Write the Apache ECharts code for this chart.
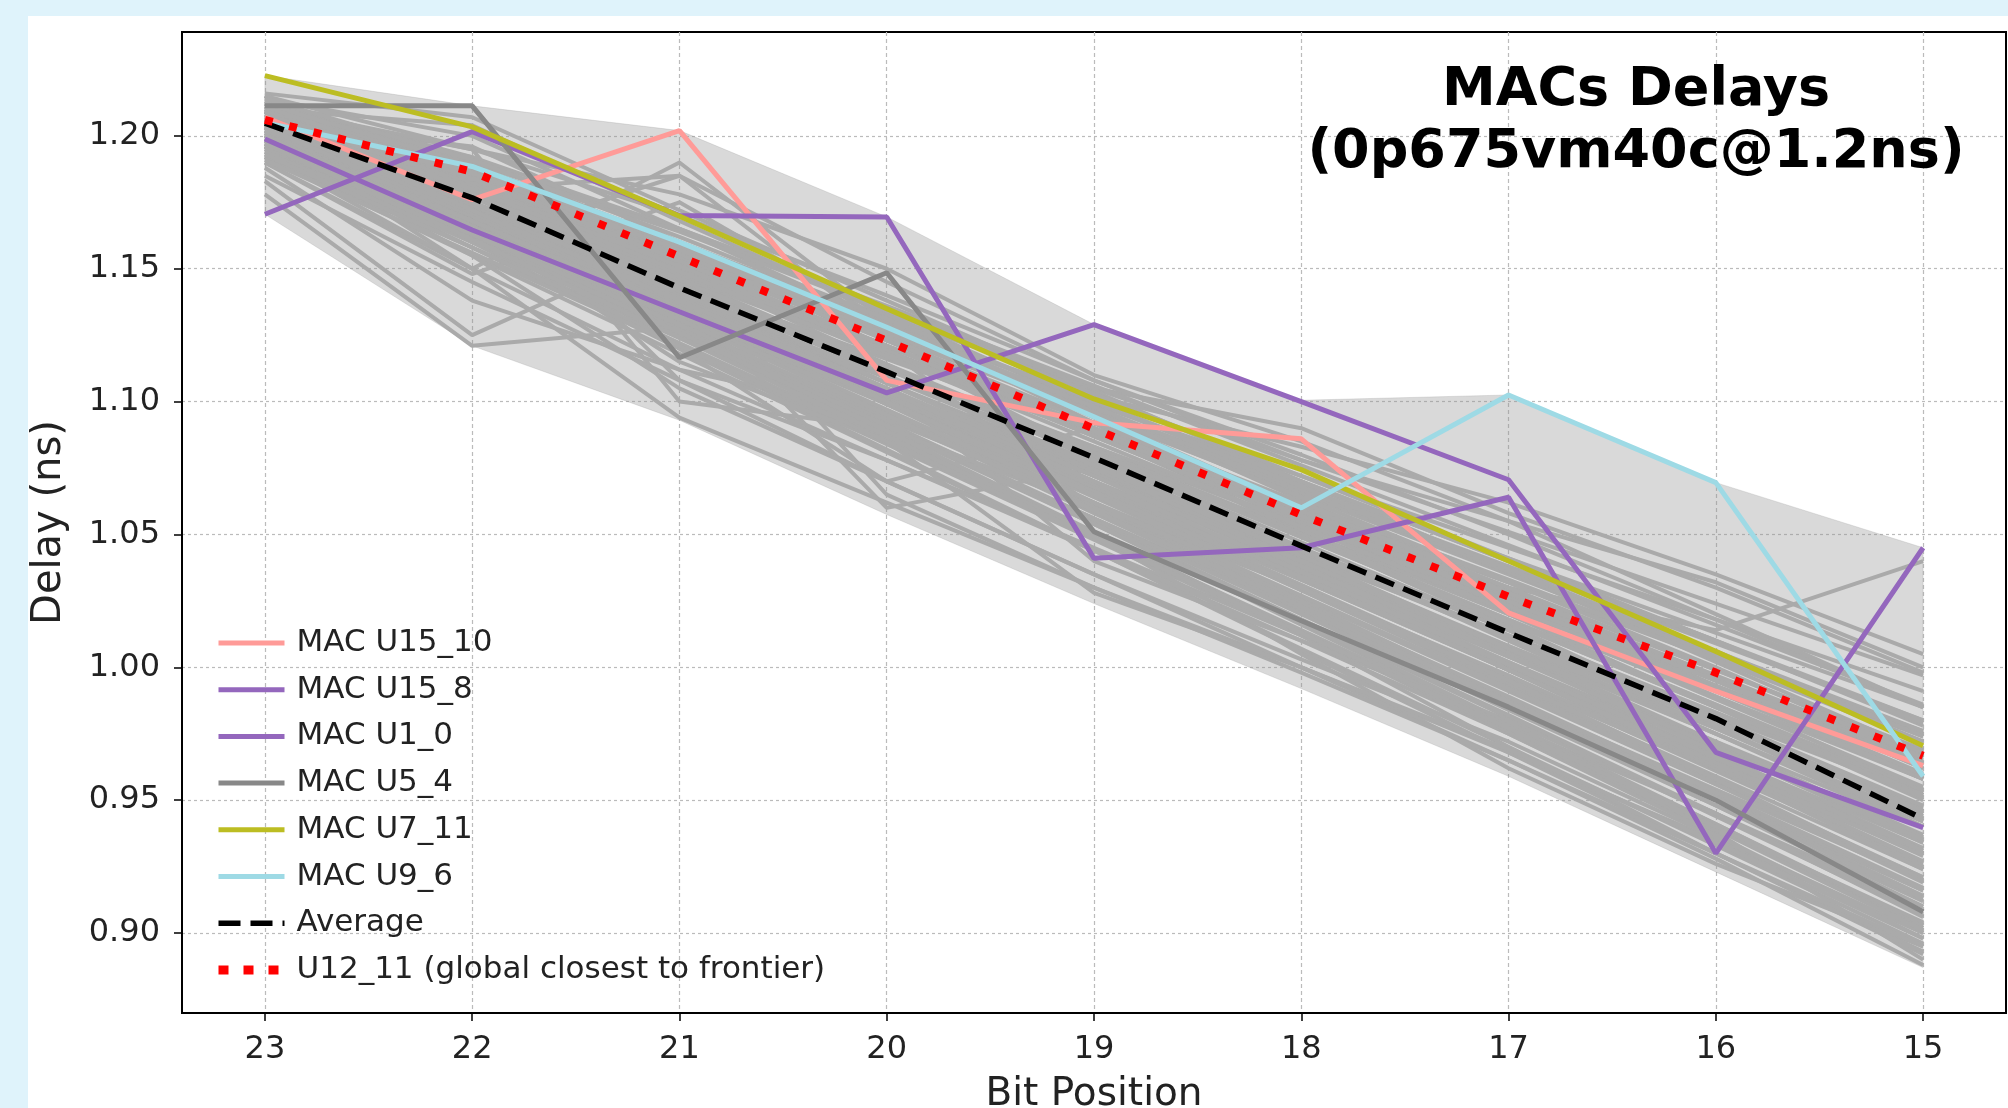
<!DOCTYPE html>
<html><head><meta charset="utf-8">
<script src="https://cdn.jsdelivr.net/npm/echarts@6/dist/echarts.min.js"></script>
<style>html,body{margin:0;padding:0;background:#fff;}#c{width:2008px;height:1108px;}</style>
</head><body><div id="c"></div>
<script>
const bits = [23,22,21,20,19,18,17,16,15];
const xTicks = [15,16,17,18,19,20,21,22,23];
const yTicks = [0.90,0.95,1.00,1.05,1.10,1.15,1.20];

const macU15_10 = [1.207,1.176,1.202,1.108,1.092,1.086,1.0205,0.991,0.963];
const macU15_8  = [1.1705,1.2016,1.170,1.1695,1.041,1.045,1.064,0.930,1.045];
const macU1_0   = [1.1988,1.1646,1.1338,1.1033,1.129,1.100,1.0706,0.968,0.9397];
const macU5_4   = [1.2113,1.2113,1.1165,1.1485,1.051,1.0175,0.985,0.950,0.908];
const macU7_11  = [1.2227,1.2034,1.1698,1.135,1.101,1.0744,1.040,1.006,0.9705];
const macU9_6   = [1.205,1.1885,1.160,1.128,1.0943,1.060,1.1025,1.0695,0.959];
const average   = [1.2048,1.1767,1.1428,1.1112,1.0789,1.0457,1.013,0.9807,0.943];
const u12_11    = [1.206,1.1865,1.1546,1.1229,1.0898,1.0574,1.0266,0.998,0.9667];

const bandUpper = [1.2227,1.2113,1.2020,1.1695,1.1290,1.1005,1.1025,1.0695,1.0450];
const bandLower = [1.1705,1.1210,1.0930,1.0575,1.0240,0.9920,0.9590,0.9230,0.8870];

const otherMacs = [
[1.192,1.162,1.132,1.102,1.072,1.042,1.012,0.982,0.952],
[1.192,1.158,1.124,1.090,1.056,1.022,0.988,0.954,0.920],
[1.192,1.155,1.118,1.081,1.044,1.007,0.970,0.933,0.896],
[1.196,1.167,1.138,1.109,1.080,1.051,1.022,0.993,0.964],
[1.196,1.164,1.132,1.100,1.068,1.036,1.004,0.972,0.940],
[1.196,1.161,1.126,1.091,1.056,1.021,0.986,0.951,0.916],
[1.196,1.158,1.120,1.082,1.044,1.006,0.968,0.930,0.892],
[1.200,1.172,1.144,1.116,1.088,1.060,1.032,1.004,0.976],
[1.200,1.169,1.138,1.107,1.076,1.045,1.014,0.983,0.952],
[1.200,1.167,1.134,1.101,1.068,1.035,1.002,0.969,0.936],
[1.200,1.164,1.128,1.092,1.056,1.020,0.984,0.948,0.912],
[1.203,1.173,1.143,1.113,1.083,1.053,1.023,0.993,0.963],
[1.203,1.171,1.139,1.107,1.075,1.043,1.011,0.979,0.947],
[1.203,1.169,1.135,1.101,1.067,1.033,0.999,0.965,0.931],
[1.203,1.166,1.129,1.092,1.055,1.018,0.981,0.944,0.907],
[1.206,1.177,1.148,1.119,1.090,1.061,1.032,1.003,0.974],
[1.206,1.175,1.144,1.113,1.082,1.051,1.020,0.989,0.958],
[1.206,1.173,1.140,1.107,1.074,1.041,1.008,0.975,0.942],
[1.206,1.171,1.136,1.101,1.066,1.031,0.996,0.961,0.926],
[1.206,1.168,1.130,1.092,1.054,1.016,0.978,0.940,0.902],
[1.209,1.181,1.153,1.125,1.097,1.069,1.041,1.013,0.985],
[1.209,1.179,1.149,1.119,1.089,1.059,1.029,0.999,0.969],
[1.209,1.177,1.145,1.113,1.081,1.049,1.017,0.985,0.953],
[1.209,1.175,1.141,1.107,1.073,1.039,1.005,0.971,0.937],
[1.209,1.173,1.137,1.101,1.065,1.029,0.993,0.957,0.921],
[1.212,1.183,1.154,1.125,1.096,1.067,1.038,1.009,0.980],
[1.212,1.181,1.150,1.119,1.088,1.057,1.026,0.995,0.964],
[1.212,1.179,1.146,1.113,1.080,1.047,1.014,0.981,0.948],
[1.212,1.177,1.142,1.107,1.072,1.037,1.002,0.967,0.932],
[1.215,1.185,1.155,1.125,1.095,1.065,1.035,1.005,0.975],
[1.215,1.183,1.151,1.119,1.087,1.055,1.023,0.991,0.959],
[1.215,1.181,1.147,1.113,1.079,1.045,1.011,0.977,0.943],
[1.198,1.165,1.132,1.099,1.066,1.033,1.000,0.967,0.934],
[1.201,1.166,1.131,1.096,1.061,1.026,0.991,0.956,0.921],
[1.204,1.168,1.132,1.096,1.060,1.024,0.988,0.952,0.916],
[1.210,1.173,1.136,1.099,1.062,1.025,0.988,0.951,0.914],
[1.194,1.163,1.132,1.101,1.070,1.039,1.008,0.977,0.946],
[1.199,1.170,1.141,1.112,1.083,1.054,1.025,0.996,0.967],
[1.207,1.180,1.153,1.126,1.099,1.072,1.045,1.018,0.991],
[1.213,1.186,1.159,1.132,1.105,1.078,1.051,1.024,0.997],
[1.210,1.204,1.168,1.133,1.098,1.063,1.028,0.993,0.958],
[1.214,1.200,1.165,1.129,1.094,1.059,1.024,0.989,0.954],
[1.205,1.196,1.160,1.124,1.088,1.052,1.016,0.980,0.944],
[1.216,1.207,1.172,1.138,1.104,1.070,1.036,1.002,0.968],
[1.208,1.192,1.158,1.123,1.089,1.054,1.020,0.985,0.950],
[1.202,1.190,1.150,1.114,1.078,1.042,1.006,0.970,0.934],
[1.178,1.121,1.128,1.093,1.062,1.030,0.997,0.962,0.925],
[1.183,1.125,1.160,1.120,1.080,1.045,1.010,0.975,0.940],
[1.188,1.138,1.112,1.095,1.058,1.022,0.985,0.948,0.910],
[1.190,1.148,1.175,1.130,1.092,1.050,1.015,0.978,0.940],
[1.210,1.195,1.100,1.090,1.060,1.030,0.995,0.962,0.930],
[1.205,1.185,1.108,1.078,1.045,1.012,0.978,0.945,0.910],
[1.200,1.150,1.190,1.130,1.095,1.060,1.028,0.995,0.962],
[1.207,1.160,1.185,1.125,1.100,1.070,1.040,1.010,0.978],
[1.196,1.170,1.140,1.060,1.075,1.040,1.005,0.968,0.930],
[1.199,1.172,1.150,1.065,1.030,1.000,0.968,0.935,0.900],
[1.203,1.180,1.185,1.145,1.108,1.080,1.050,1.018,0.985],
[1.211,1.195,1.178,1.150,1.110,1.085,1.055,1.020,0.985],
[1.213,1.190,1.165,1.135,1.105,1.090,1.058,1.030,0.998],
[1.209,1.188,1.160,1.128,1.102,1.083,1.062,1.035,1.005],
[1.215,1.195,1.170,1.140,1.108,1.078,1.055,1.032,1.000],
[1.211,1.187,1.156,1.124,1.092,1.060,1.030,1.014,1.040],
[1.190,1.150,1.112,1.078,1.044,1.010,0.975,0.938,0.890],
[1.195,1.160,1.120,1.084,1.048,1.012,0.970,0.930,0.893],
[1.185,1.145,1.108,1.070,1.035,1.000,0.965,0.928,0.888],
[1.198,1.162,1.125,1.088,1.050,1.005,0.962,0.926,0.895],
[1.193,1.150,1.094,1.062,1.030,0.998,0.965,0.930,0.895],
[1.197,1.155,1.105,1.070,1.035,1.003,0.972,0.936,0.900],
[1.201,1.165,1.115,1.085,1.028,1.000,0.969,0.934,0.898],
[1.204,1.175,1.125,1.105,1.040,1.010,0.980,0.945,0.908],
[1.206,1.178,1.150,1.120,1.060,1.035,1.000,0.965,0.930],
[1.202,1.170,1.120,1.070,1.090,1.050,1.015,0.980,0.945],
[1.197,1.170,1.137,1.105,1.072,1.040,1.007,0.975,0.942],
[1.201,1.174,1.141,1.109,1.077,1.044,1.012,0.979,0.946],
[1.204,1.177,1.146,1.114,1.082,1.050,1.018,0.986,0.954],
[1.208,1.183,1.152,1.121,1.090,1.058,1.027,0.996,0.965],
[1.211,1.188,1.158,1.127,1.097,1.066,1.036,1.005,0.975],
[1.195,1.166,1.133,1.100,1.066,1.033,0.999,0.965,0.930],
[1.199,1.168,1.134,1.099,1.064,1.029,0.994,0.959,0.924],
[1.202,1.170,1.135,1.100,1.065,1.030,0.995,0.958,0.920],
[1.205,1.174,1.140,1.105,1.070,1.035,0.999,0.962,0.924],
[1.208,1.178,1.144,1.110,1.076,1.042,1.007,0.972,0.936],
[1.194,1.160,1.125,1.090,1.054,1.018,0.982,0.945,0.906],
[1.198,1.163,1.127,1.091,1.054,1.017,0.979,0.941,0.902],
[1.201,1.163,1.126,1.089,1.051,1.013,0.975,0.937,0.898],
[1.210,1.186,1.160,1.130,1.100,1.070,1.040,1.010,0.980],
[1.213,1.192,1.165,1.136,1.106,1.076,1.046,1.016,0.986],
[1.206,1.183,1.155,1.126,1.096,1.066,1.036,1.006,0.976],
[1.200,1.175,1.147,1.118,1.088,1.057,1.026,0.995,0.962],
[1.197,1.172,1.143,1.113,1.082,1.050,1.018,0.986,0.952],
[1.203,1.179,1.151,1.121,1.090,1.059,1.028,0.997,0.966],
[1.209,1.190,1.164,1.134,1.103,1.072,1.041,1.010,0.979],
[1.207,1.182,1.150,1.119,1.087,1.055,1.023,0.991,0.958],
[1.210,1.185,1.154,1.123,1.092,1.061,1.030,0.999,0.968],
[1.212,1.189,1.160,1.129,1.098,1.067,1.036,1.004,0.972],
[1.205,1.181,1.151,1.121,1.092,1.062,1.033,1.003,0.972],
[1.208,1.186,1.157,1.127,1.096,1.064,1.032,1.000,0.966],
[1.203,1.178,1.148,1.118,1.087,1.056,1.025,0.993,0.960],
[1.206,1.180,1.149,1.117,1.085,1.053,1.021,0.988,0.955],
[1.211,1.184,1.153,1.121,1.089,1.057,1.025,0.992,0.958],
[1.214,1.191,1.162,1.131,1.100,1.068,1.037,1.006,0.974],
[1.204,1.175,1.143,1.112,1.081,1.049,1.017,0.985,0.951],
[1.202,1.172,1.139,1.105,1.072,1.038,1.004,0.970,0.935],
[1.199,1.166,1.132,1.097,1.062,1.027,0.992,0.956,0.919],
[1.196,1.163,1.129,1.094,1.059,1.024,0.989,0.953,0.917],
[1.203,1.170,1.136,1.102,1.068,1.034,0.999,0.963,0.927],
[1.193,1.158,1.122,1.086,1.050,1.014,0.978,0.941,0.903],
[1.197,1.161,1.124,1.087,1.050,1.013,0.976,0.939,0.901],
[1.200,1.166,1.131,1.095,1.059,1.023,0.987,0.950,0.913],
[1.205,1.171,1.137,1.103,1.069,1.034,0.999,0.964,0.929],
[1.191,1.156,1.121,1.085,1.049,1.013,0.977,0.940,0.904],
[1.207,1.172,1.138,1.104,1.070,1.036,1.001,0.966,0.931]
];

const FONT = 'DejaVu Sans';
const pts = arr => bits.map((b, i) => [b, arr[i]]);

const series = [];
// min..max envelope of all MACs
series.push({
  name: 'envelope', type: 'custom', silent: true, z: 1, clip: true,
  data: [[19, 1.0]],
  renderItem: (params, api) => {
    const up = bits.map((b, i) => api.coord([b, bandUpper[i]]));
    const lo = bits.map((b, i) => api.coord([b, bandLower[i]])).reverse();
    return { type: 'polygon', shape: { points: up.concat(lo) },
      style: { fill: 'rgba(150,150,150,0.36)', stroke: 'rgba(150,150,150,0.25)', lineWidth: 1 } };
  }
});
otherMacs.forEach((arr, k) => {
  series.push({
    name: 'mac' + k, type: 'line', data: pts(arr), symbol: 'none', silent: true, z: 2,
    lineStyle: { color: '#aaaaaa', width: 4 }
  });
});
const hl = (name, arr, color, width, type, z) => ({
  name, type: 'line', data: pts(arr), symbol: 'none', z: z || 3,
  lineStyle: { color, width, type: type || 'solid', cap: 'butt' }, itemStyle: { color }
});
series.push(hl('MAC U15_10', macU15_10, '#ff9b98', 5));
series.push(hl('MAC U15_8', macU15_8, '#9467bd', 5));
series.push(hl('MAC U1_0', macU1_0, '#9467bd', 5));
series.push(hl('MAC U5_4', macU5_4, '#888888', 5));
series.push(hl('MAC U7_11', macU7_11, '#bcbd22', 5));
series.push(hl('MAC U9_6', macU9_6, '#9edae5', 5));
series.push(hl('Average', average, '#000000', 5.5, [20, 10], 4));
series.push(hl('U12_11 (global closest to frontier)', u12_11, '#ff0000', 8, [8, 17], 5));

const legendNames = ['MAC U15_10','MAC U15_8','MAC U1_0','MAC U5_4','MAC U7_11','MAC U9_6','Average','U12_11 (global closest to frontier)'];
const legendLine = {
  'Average': { width: 5.5, type: [22, 10] },
  'U12_11 (global closest to frontier)': { width: 9, type: [10, 15] }
};

const chart = echarts.init(document.getElementById('c'), null, { renderer: 'canvas' });
chart.setOption({
  backgroundColor: '#ffffff',
  animation: false,
  textStyle: { fontFamily: FONT },
  grid: { left: 182, right: 2, top: 32, bottom: 95, outerBoundsMode: 'none', containLabel: false,
    show: true, borderColor: '#000', borderWidth: 2, backgroundColor: 'transparent' },
  xAxis: {
    type: 'value', inverse: true, min: 14.6, max: 23.4,
    name: 'Bit Position', nameLocation: 'middle', nameGap: 62,
    nameTextStyle: { fontSize: 39, color: '#222', fontFamily: FONT },
    axisLine: { show: true, lineStyle: { color: '#000', width: 2 } },
    axisTick: { show: true, customValues: xTicks, length: 8, lineStyle: { color: '#000', width: 1.5 } },
    axisLabel: { customValues: xTicks, fontSize: 32, color: '#222', margin: 21, fontFamily: FONT },
    splitLine: { show: true, lineStyle: { color: '#bbbbbb', width: 1.2, type: [4, 3] } }
  },
  yAxis: {
    type: 'value', min: 0.8699, max: 1.2391,
    name: 'Delay (ns)', nameLocation: 'middle', nameGap: 112,
    nameTextStyle: { fontSize: 40, color: '#222', fontFamily: FONT },
    axisLine: { show: true, lineStyle: { color: '#000', width: 2 } },
    axisTick: { show: true, customValues: yTicks, length: 8, lineStyle: { color: '#000', width: 1.5 } },
    axisLabel: { customValues: yTicks, fontSize: 32, color: '#222', margin: 22, fontFamily: FONT,
      formatter: v => Number(v).toFixed(2) },
    splitLine: { show: true, lineStyle: { color: '#bbbbbb', width: 1.2, type: [3, 3] } }
  },
  legend: {
    data: legendNames.map(n => ({ name: n, lineStyle: Object.assign({ width: 5 }, legendLine[n] || {}) })),
    orient: 'vertical', left: 209, top: 621, itemWidth: 66, itemHeight: 12, itemGap: 12.7,
    itemStyle: { opacity: 0 },
    textStyle: { fontSize: 31, color: '#222', fontFamily: FONT, lineHeight: 34, padding: [0, 0, 0, 7] },
    selectedMode: false
  },
  graphic: [
    { type: 'rect', shape: { x: 0, y: 0, width: 2008, height: 16 }, style: { fill: '#dff3fb' }, silent: true },
    { type: 'rect', shape: { x: 0, y: 0, width: 28, height: 1108 }, style: { fill: '#dff3fb' }, silent: true },
    { type: 'text', x: 1636, y: 60, z: 100,
      style: { text: 'MACs Delays\n(0p675vm40c@1.2ns)', fill: '#000', font: 'bold 54px "DejaVu Sans"',
        textAlign: 'center', textVerticalAlign: 'top', lineHeight: 62 } }
  ],
  series
});
</script></body></html>
